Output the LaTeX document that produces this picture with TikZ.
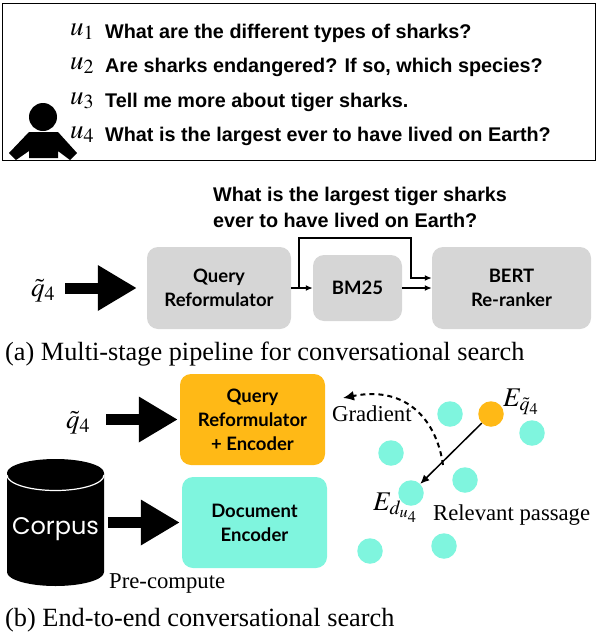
\documentclass[tikz,border=0pt]{standalone}
\usepackage{mathptmx}
\usepackage{fontspec}
\setmainfont{Liberation Serif}
\newfontfamily\qfont{Liberation Sans}
\newfontfamily\boxfont{Lato}
\newfontfamily\corpusfont{Poppins}
\usetikzlibrary{arrows.meta, positioning, shapes.geometric}
\definecolor{boite}{HTML}{D6D6D6}
\definecolor{orange}{HTML}{FFB916}
\definecolor{menthe}{HTML}{7FF5DE}
\tikzset{
  utter/.style={anchor=base west, inner sep=0, font=\qfont\fontsize{19.8}{24}\selectfont\bfseries},
  mathlab/.style={anchor=base west, inner sep=0, font=\fontsize{27}{30}\selectfont},
  legende/.style={anchor=base west, inner sep=0, font=\fontsize{26.3}{30}\selectfont},
  note/.style={anchor=base west, inner sep=0, font=\fontsize{22.7}{26}\selectfont},
  stagebox/.style={rounded corners=11, align=center, inner sep=0, font=\boxfont\fontsize{18.5}{24}\selectfont\bfseries},
  bigarrow/.style={line width=11pt, -{Triangle[length=39pt,width=43pt]}},
  flow/.style={line width=1.5pt, -{Latex[length=7pt,width=6pt]}},
  dot/.style={circle, minimum size=25.5pt, inner sep=0, fill=menthe}
}
\begin{document}
\begin{tikzpicture}[x=1pt, y=1pt]
    \useasboundingbox (0,0) rectangle (598,-632);
    % Dialogue
    \node[draw, line width=1.3pt, minimum width=593pt, minimum height=157pt, inner sep=0, anchor=north west] (frame) at (2,-3) {};
    \foreach \i/\y/\txt in {1/38/What are the different types of sharks?, 2/72/{Are sharks endangered? If so, which species?}, 3/107/Tell me more about tiger sharks., 4/141/What is the largest ever to have lived on Earth?} {
      \node[mathlab] (u\i) at (70, -\y+3) {$u_\i$};
      \node[utter] (text\i) at (105, -\y) {\txt};
    }
    % Personnage
    \fill (43,-117) circle (14);
    \fill (29,-132) -- (58,-132) -- (77,-153) -- (70,-160) -- (58,-151) -- (58,-158) -- (29,-158) -- (29,-151) -- (16,-160) -- (9,-153) -- cycle;
    % Pipeline
    \node[utter] (rewrite1) at (213,-201) {What is the largest tiger sharks};
    \node[utter] (rewrite2) at (213,-227) {ever to have lived on Earth?};
    \node[stagebox, fill=boite, minimum width=144pt, minimum height=82pt] (reform) at (219,-288) {Query\\Reformulator};
    \node[stagebox, fill=boite, minimum width=89pt, minimum height=66pt] (bm25) at (357.5,-288) {BM25};
    \node[stagebox, fill=boite, minimum width=159pt, minimum height=82pt] (bert) at (511.5,-288) {BERT\\Re-ranker};
    \node[mathlab] (qa) at (31,-296) {$\tilde{q}_4$};
    \draw[bigarrow, shorten >=10pt] (65,-288) -- (reform.west);
    \draw[flow] (reform.east) -- (bm25.west);
    \draw[flow] (bm25.east) -- (bert.west);
    \coordinate (branch) at (299,-288);
    \coordinate (rejoin) at (411,-278);
    \draw[flow] (branch) -- ++(0,50) -| (rejoin) -- (bert.west |- rejoin);
    \node[legende] (capa) at (5,-360) {(a) Multi-stage pipeline for conversational search};
    % End-to-end
    \node[stagebox, fill=orange, minimum width=145pt, minimum height=91pt] (qenc) at (252.5,-419.5) {Query\\Reformulator\\+ Encoder};
    \node[stagebox, fill=menthe, minimum width=145pt, minimum height=91pt] (denc) at (254.5,-522.5) {Document\\Encoder};
    \node[mathlab] (qb) at (66,-428) {$\tilde{q}_4$};
    \draw[bigarrow, shorten >=2pt] (106,-419.5) -- (qenc.west);
    \node[cylinder, shape border rotate=90, aspect=0.32, anchor=shape center, fill=black, text=white, minimum width=97pt, minimum height=127pt, inner sep=0, font=\corpusfont\fontsize{24}{28}\selectfont] (corpus) at (55.5,-522.5) {Corpus};
    \draw[white, line width=1.2pt] (7,-475) arc[start angle=180, end angle=360, x radius=48.5, y radius=15.5];
    \draw[bigarrow, shorten >=2pt] (108,-522.5) -- (denc.west);
    \node[note] (precomp) at (109,-588) {Pre-compute};
    \node[legende] (capb) at (5,-626) {(b) End-to-end conversational search};
    % Espace latent
    \foreach \i/\x/\y in {1/450/414, 2/532/433, 3/391/453, 4/465/480, 5/411/493, 6/370/551, 7/444/546} {
      \node[dot] (dot\i) at (\x,-\y) {};
    }
    \node[dot, fill=orange] (qdot) at (491,-414) {};
    \node[mathlab] (eq) at (503,-406) {$E_{\tilde{q}_4}$};
    \node[mathlab] (ed) at (373,-510) {$E_{d_{u_4}}$};
    \node[note] (grad) at (332,-421) {Gradient};
    \node[note] (rel) at (433,-520) {Relevant passage};
    \draw[line width=1.5pt, -{Latex[length=9pt,width=8pt]}] (qdot) -- (dot5);
    \coordinate (gradstart) at (443,-465);
    \coordinate (gradend) at (343,-398);
    \draw[line width=2pt, dash pattern=on 5pt off 4pt, -{Latex[length=11pt,width=10pt]}] (gradstart) .. controls (437,-422) and (408,-385) .. (gradend);
\end{tikzpicture}
\end{document}
